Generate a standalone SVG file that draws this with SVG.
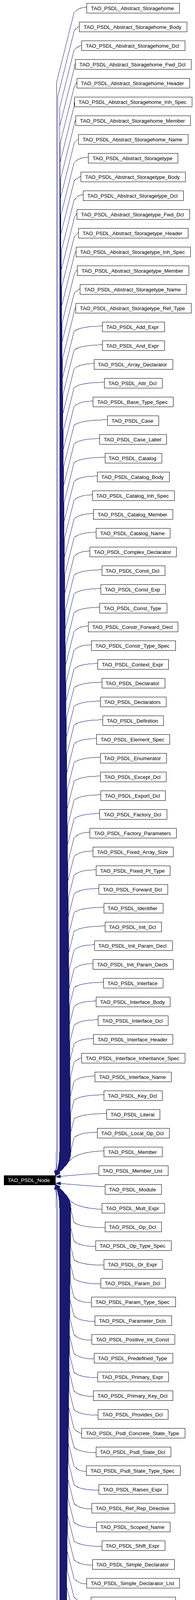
<svg xmlns="http://www.w3.org/2000/svg" width="498" height="6039" viewBox="0 0 498 6039">
<style>
.n rect{fill:#fff;stroke:#000;stroke-width:1;shape-rendering:crispEdges}
.n text{font-family:"Liberation Sans",Arial,Helvetica,sans-serif;font-size:13.3px;text-anchor:middle;fill:#000}
#edges path{fill:none;stroke:#191970;stroke-width:1;marker-end:url(#arr);shape-rendering:crispEdges}
#TAO_PSDL_Node rect{fill:#000;stroke:#000}
#TAO_PSDL_Node text{fill:#fff}
</style>
<defs>
<marker id="arr" markerUnits="userSpaceOnUse" markerWidth="14" markerHeight="10" refX="13" refY="4.5" orient="auto"><path d="M0,0 L13,4.5 L0,9 Z" fill="#191970" stroke="#191970" stroke-width="0.5"/></marker>
</defs>
<rect width="498" height="6039" fill="#fff"/>
<g id="edges">
<path d="M221.3,18.8C201.9,18.8 196,25.8 189,32.8l-45,180V2950c0,28 -1,40 -2,60"/>
<path d="M202.3,66.8C200.3,69.8 189.5,74.8 189,80.8l-42,168V2950c0,28 -2.5,40 -5,60"/>
<path d="M208.3,114.8C206.3,117.8 189.5,122.8 189,128.8l-37,148V2950c0,28 -5,40 -10,60"/>
<path d="M192.3,162.8C190.3,165.8 189.5,170.8 189,176.8l-36.5,146V2950c0,28 -5.25,40 -10.5,60"/>
<path d="M196.3,210.8C194.3,213.8 189.5,218.8 189,224.8l-36,144V2950c0,28 -5.5,40 -11,60"/>
<path d="M190.3,258.8C189.8,261.8 189.5,266.8 189,272.8l-35.5,142V2950c0,28 -5.75,40 -11.5,60"/>
<path d="M193.3,306.8C191.3,309.8 189.5,314.8 189,320.8l-35,140V2950c0,28 -6,40 -12,60"/>
<path d="M200.3,354.8C198.3,357.8 189.5,362.8 189,368.8l-34.5,138V2950c0,28 -6.25,40 -12.5,60"/>
<path d="M225.3,402.8C203.5,402.8 196,409.8 189,416.8l-34,136V2950c0,28 -6.5,40 -13,60"/>
<path d="M206.3,450.8C204.3,453.8 189.5,458.8 189,464.8l-33.5,134V2950c0,28 -6.75,40 -13.5,60"/>
<path d="M212.3,498.8C198.3,498.8 196,505.8 189,512.8l-33,132V2950c0,28 -7,40 -14,60"/>
<path d="M196.3,546.8C194.3,549.8 189.5,554.8 189,560.8l-32.5,130V2950c0,28 -7.25,40 -14.5,60"/>
<path d="M200.3,594.8C198.3,597.8 189.5,602.8 189,608.8l-32,128V2950c0,28 -7.5,40 -15,60"/>
<path d="M194.3,642.8C192.3,645.8 189.5,650.8 189,656.8l-31.5,126V2950c0,28 -7.75,40 -15.5,60"/>
<path d="M197.3,690.8C195.3,693.8 189.5,698.8 189,704.8l-31,124V2950c0,28 -8,40 -16,60"/>
<path d="M204.3,738.8C202.3,741.8 189.5,746.8 189,752.8l-30.5,122V2950c0,28 -8.25,40 -16.5,60"/>
<path d="M193.3,786.8C191.3,789.8 189.5,794.8 189,800.8l-30,120V2950c0,28 -8.5,40 -17,60"/>
<path d="M261.3,834.8C217.9,834.8 196,841.8 189,848.8l-29.5,118V2950c0,28 -8.75,40 -17.5,60"/>
<path d="M261.3,882.8C217.9,882.8 196,889.8 189,896.8l-29,116V2950c0,28 -9,40 -18,60"/>
<path d="M240.3,930.8C209.5,930.8 196,937.8 189,944.8l-28.5,114V2950c0,28 -9.25,40 -18.5,60"/>
<path d="M266.3,978.8C219.9,978.8 196,985.8 189,992.8l-28,112V2950c0,28 -9.5,40 -19,60"/>
<path d="M237.3,1026.8C208.3,1026.8 196,1033.8 189,1040.8l-27.5,110V2950c0,28 -9.75,40 -19.5,60"/>
<path d="M274.3,1074.8C223.1,1074.8 196,1081.8 189,1088.8l-27,108V2950c0,28 -10,40 -20,60"/>
<path d="M254.3,1122.8C215.1,1122.8 196,1129.8 189,1136.8l-26.5,106V2950c0,28 -10.25,40 -20.5,60"/>
<path d="M268.3,1170.8C220.7,1170.8 196,1177.8 189,1184.8l-26,104V2950c0,28 -10.5,40 -21,60"/>
<path d="M248.3,1218.8C212.7,1218.8 196,1225.8 189,1232.8l-25.5,102V2950c0,28 -10.75,40 -21.5,60"/>
<path d="M236.3,1266.8C207.9,1266.8 196,1273.8 189,1280.8l-25,100V2950c0,28 -11,40 -22,60"/>
<path d="M238.3,1314.8C208.7,1314.8 196,1321.8 189,1328.8l-24.5,98V2950c0,28 -11.25,40 -22.5,60"/>
<path d="M245.3,1362.8C211.5,1362.8 196,1369.8 189,1376.8l-24,96V2950c0,28 -11.5,40 -23,60"/>
<path d="M229.3,1410.8C205.1,1410.8 196,1417.8 189,1424.8l-23.5,94V2950c0,28 -11.75,40 -23.5,60"/>
<path d="M260.3,1458.8C217.5,1458.8 196,1465.8 189,1472.8l-23,92V2950c0,28 -12,40 -24,60"/>
<path d="M257.3,1506.8C216.3,1506.8 196,1513.8 189,1520.8l-22.5,90V2950c0,28 -12.25,40 -24.5,60"/>
<path d="M254.3,1554.8C215.1,1554.8 196,1561.8 189,1568.8l-22,88V2950c0,28 -12.5,40 -25,60"/>
<path d="M225.3,1602.8C203.5,1602.8 196,1609.8 189,1616.8l-21.5,86V2950c0,28 -12.75,40 -25.5,60"/>
<path d="M233.3,1650.8C206.7,1650.8 196,1657.8 189,1664.8l-21,84V2950c0,28 -13,40 -26,60"/>
<path d="M249.3,1698.8C213.1,1698.8 196,1705.8 189,1712.8l-20.5,82V2950c0,28 -13.25,40 -26.5,60"/>
<path d="M260.3,1746.8C217.5,1746.8 196,1753.8 189,1760.8l-20,80V2950c0,28 -13.5,40 -27,60"/>
<path d="M256.3,1794.8C215.9,1794.8 196,1801.8 189,1808.8l-19.5,78V2950c0,28 -13.75,40 -27.5,60"/>
<path d="M262.3,1842.8C218.3,1842.8 196,1849.8 189,1856.8l-19,76V2950c0,28 -14,40 -28,60"/>
<path d="M246.3,1890.8C211.9,1890.8 196,1897.8 189,1904.8l-18.5,74V2950c0,28 -14.25,40 -28.5,60"/>
<path d="M256.3,1938.8C215.9,1938.8 196,1945.8 189,1952.8l-18,72V2950c0,28 -14.5,40 -29,60"/>
<path d="M256.3,1986.8C215.9,1986.8 196,1993.8 189,2000.8l-17.5,70V2950c0,28 -14.75,40 -29.5,60"/>
<path d="M257.3,2034.8C216.3,2034.8 196,2041.8 189,2048.8l-17,68V2950c0,28 -15,40 -30,60"/>
<path d="M254.3,2082.8C215.1,2082.8 196,2089.8 189,2096.8l-16.5,66V2950c0,28 -15.25,40 -30.5,60"/>
<path d="M229.3,2130.8C205.1,2130.8 196,2137.8 189,2144.8l-16,64V2950c0,28 -15.5,40 -31,60"/>
<path d="M237.3,2178.8C208.3,2178.8 196,2185.8 189,2192.8l-15.5,62V2950c0,28 -15.75,40 -31.5,60"/>
<path d="M245.3,2226.8C211.5,2226.8 196,2233.8 189,2240.8l-15,60V2950c0,28 -16,40 -32,60"/>
<path d="M252.3,2274.8C214.3,2274.8 196,2281.8 189,2288.8l-14.5,58V2950c0,28 -16.25,40 -32.5,60"/>
<path d="M265.3,2322.8C219.5,2322.8 196,2329.8 189,2336.8l-14,56V2950c0,28 -16.5,40 -33,60"/>
<path d="M268.3,2370.8C220.7,2370.8 196,2377.8 189,2384.8l-13.5,54V2950c0,28 -16.75,40 -33.5,60"/>
<path d="M241.3,2418.8C209.9,2418.8 196,2425.8 189,2432.8l-13,52V2950c0,28 -17,40 -34,60"/>
<path d="M237.3,2466.8C208.3,2466.8 196,2473.8 189,2480.8l-12.5,50V2950c0,28 -17.25,40 -34.5,60"/>
<path d="M264.3,2514.8C219.1,2514.8 196,2521.8 189,2528.8l-12,48V2950c0,28 -17.5,40 -35,60"/>
<path d="M245.3,2562.8C211.5,2562.8 196,2569.8 189,2576.8l-11.5,46V2950c0,28 -17.75,40 -35.5,60"/>
<path d="M250.3,2610.8C213.5,2610.8 196,2617.8 189,2624.8l-11,44V2950c0,28 -18,40 -36,60"/>
<path d="M238.3,2658.8C208.7,2658.8 196,2665.8 189,2672.8l-10.5,42V2950c0,28 -18.25,40 -36.5,60"/>
<path d="M208.3,2706.8C206.3,2709.8 189.5,2714.8 189,2720.8l-10,40V2950c0,28 -18.5,40 -37,60"/>
<path d="M242.3,2754.8C210.3,2754.8 196,2761.8 189,2768.8l-9.5,38V2950c0,28 -18.75,40 -37.5,60"/>
<path d="M265.3,2802.8C219.5,2802.8 196,2809.8 189,2816.8l-9,36V2950c0,28 -19,40 -38,60"/>
<path d="M272.3,2850.8C222.3,2850.8 196,2857.8 189,2864.8l-8.5,34V2950c0,28 -19.25,40 -38.5,60"/>
<path d="M248.3,2898.8C212.7,2898.8 196,2905.8 189,2912.8l-8,32V2950c0,28 -19.5,40 -39,60"/>
<path d="M265.3,2946C225,2948 196,2955 185,2965C172,2977 152,2992 142,3010"/>
<path d="M252.3,3004C210,3006 170,3010 142,3013"/>
<path d="M268.3,3038C220,3036 175,3031 142,3029"/>
<path d="M260.3,3096C225,3094 200,3088 187,3080C172,3068 154,3046 142,3033"/>
<path d="M268.3,3142.8C220.7,3142.8 196,3135.8 189,3128.8l-8,-32V3092c0,-28 -19.5,-40 -39,-60"/>
<path d="M244.3,3190.8C211.1,3190.8 196,3183.8 189,3176.8l-8.5,-34V3092c0,-28 -19.25,-40 -38.5,-60"/>
<path d="M265.3,3238.8C219.5,3238.8 196,3231.8 189,3224.8l-9,-36V3092c0,-28 -19,-40 -38,-60"/>
<path d="M257.3,3286.8C216.3,3286.8 196,3279.8 189,3272.8l-9.5,-38V3092c0,-28 -18.75,-40 -37.5,-60"/>
<path d="M233.3,3334.8C206.7,3334.8 196,3327.8 189,3320.8l-10,-40V3092c0,-28 -18.5,-40 -37,-60"/>
<path d="M242.3,3382.8C210.3,3382.8 196,3375.8 189,3368.8l-10.5,-42V3092c0,-28 -18.25,-40 -36.5,-60"/>
<path d="M234.3,3430.8C207.1,3430.8 196,3423.8 189,3416.8l-11,-44V3092c0,-28 -18,-40 -36,-60"/>
<path d="M240.3,3478.8C209.5,3478.8 196,3471.8 189,3464.8l-11.5,-46V3092c0,-28 -17.75,-40 -35.5,-60"/>
<path d="M249.3,3526.8C213.1,3526.8 196,3519.8 189,3512.8l-12,-48V3092c0,-28 -17.5,-40 -35,-60"/>
<path d="M238.3,3574.8C208.7,3574.8 196,3567.8 189,3560.8l-12.5,-50V3092c0,-28 -17.25,-40 -34.5,-60"/>
<path d="M250.3,3622.8C213.5,3622.8 196,3615.8 189,3608.8l-13,-52V3092c0,-28 -17,-40 -34,-60"/>
<path d="M208.3,3670.8C206.3,3667.8 189.5,3662.8 189,3656.8l-13.5,-54V3092c0,-28 -16.75,-40 -33.5,-60"/>
<path d="M245.3,3718.8C211.5,3718.8 196,3711.8 189,3704.8l-14,-56V3092c0,-28 -16.5,-40 -33,-60"/>
<path d="M220.3,3766.8C201.5,3766.8 196,3759.8 189,3752.8l-14.5,-58V3092c0,-28 -16.25,-40 -32.5,-60"/>
<path d="M252.3,3814.8C214.3,3814.8 196,3807.8 189,3800.8l-15,-60V3092c0,-28 -16,-40 -32,-60"/>
<path d="M234.3,3862.8C207.1,3862.8 196,3855.8 189,3848.8l-15.5,-62V3092c0,-28 -15.75,-40 -31.5,-60"/>
<path d="M246.3,3910.8C211.9,3910.8 196,3903.8 189,3896.8l-16,-64V3092c0,-28 -15.5,-40 -31,-60"/>
<path d="M260.3,3958.8C217.5,3958.8 196,3951.8 189,3944.8l-16.5,-66V3092c0,-28 -15.25,-40 -30.5,-60"/>
<path d="M236.3,4006.8C207.9,4006.8 196,3999.8 189,3992.8l-17,-68V3092c0,-28 -15,-40 -30,-60"/>
<path d="M221.3,4054.8C201.9,4054.8 196,4047.8 189,4040.8l-17.5,-70V3092c0,-28 -14.75,-40 -29.5,-60"/>
<path d="M232.3,4102.8C206.3,4102.8 196,4095.8 189,4088.8l-18,-72V3092c0,-28 -14.5,-40 -29,-60"/>
<path d="M252.3,4150.8C214.3,4150.8 196,4143.8 189,4136.8l-18.5,-74V3092c0,-28 -14.25,-40 -28.5,-60"/>
<path d="M246.3,4198.8C211.9,4198.8 196,4191.8 189,4184.8l-19,-76V3092c0,-28 -14,-40 -28,-60"/>
<path d="M250.3,4246.8C213.5,4246.8 196,4239.8 189,4232.8l-19.5,-78V3092c0,-28 -13.75,-40 -27.5,-60"/>
<path d="M232.3,4294.8C206.3,4294.8 196,4287.8 189,4280.8l-20,-80V3092c0,-28 -13.5,-40 -27,-60"/>
<path d="M225.3,4342.8C203.5,4342.8 196,4335.8 189,4328.8l-20.5,-82V3092c0,-28 -13.25,-40 -26.5,-60"/>
<path d="M214.3,4390.8C199.1,4390.8 196,4383.8 189,4376.8l-21,-84V3092c0,-28 -13,-40 -26,-60"/>
<path d="M218.3,4438.8C200.7,4438.8 196,4431.8 189,4424.8l-21.5,-86V3092c0,-28 -12.75,-40 -25.5,-60"/>
<path d="M222.3,4486.8C202.3,4486.8 196,4479.8 189,4472.8l-22,-88V3092c0,-28 -12.5,-40 -25,-60"/>
<path d="M229.3,4534.8C205.1,4534.8 196,4527.8 189,4520.8l-22.5,-90V3092c0,-28 -12.25,-40 -24.5,-60"/>
<path d="M228.3,4582.8C204.7,4582.8 196,4575.8 189,4568.8l-23,-92V3092c0,-28 -12,-40 -24,-60"/>
<path d="M254.3,4630.8C215.1,4630.8 196,4623.8 189,4616.8l-23.5,-94V3092c0,-28 -11.75,-40 -23.5,-60"/>
<path d="M236.3,4678.8C207.9,4678.8 196,4671.8 189,4664.8l-24,-96V3092c0,-28 -11.5,-40 -23,-60"/>
<path d="M241.3,4726.8C209.9,4726.8 196,4719.8 189,4712.8l-24.5,-98V3092c0,-28 -11.25,-40 -22.5,-60"/>
<path d="M224.3,4774.8C203.1,4774.8 196,4767.8 189,4760.8l-25,-100V3092c0,-28 -11,-40 -22,-60"/>
<path d="M229.3,4822.8C205.1,4822.8 196,4815.8 189,4808.8l-25.5,-102V3092c0,-28 -10.75,-40 -21.5,-60"/>
<path d="M218.3,4870.8C200.7,4870.8 196,4863.8 189,4856.8l-26,-104V3092c0,-28 -10.5,-40 -21,-60"/>
<path d="M222.3,4918.8C202.3,4918.8 196,4911.8 189,4904.8l-26.5,-106V3092c0,-28 -10.25,-40 -20.5,-60"/>
<path d="M226.3,4966.8C203.9,4966.8 196,4959.8 189,4952.8l-27,-108V3092c0,-28 -10,-40 -20,-60"/>
<path d="M233.3,5014.8C206.7,5014.8 196,5007.8 189,5000.8l-27.5,-110V3092c0,-28 -9.75,-40 -19.5,-60"/>
<path d="M221.3,5062.8C201.9,5062.8 196,5055.8 189,5048.8l-28,-112V3092c0,-28 -9.5,-40 -19,-60"/>
<path d="M245.3,5110.8C211.5,5110.8 196,5103.8 189,5096.8l-28.5,-114V3092c0,-28 -9.25,-40 -18.5,-60"/>
<path d="M252.3,5158.8C214.3,5158.8 196,5151.8 189,5144.8l-29,-116V3092c0,-28 -9,-40 -18,-60"/>
<path d="M233.3,5206.8C206.7,5206.8 196,5199.8 189,5192.8l-29.5,-118V3092c0,-28 -8.75,-40 -17.5,-60"/>
<path d="M225.3,5254.8C203.5,5254.8 196,5247.8 189,5240.8l-30,-120V3092c0,-28 -8.5,-40 -17,-60"/>
<path d="M262.3,5302.8C218.3,5302.8 196,5295.8 189,5288.8l-30.5,-122V3092c0,-28 -8.25,-40 -16.5,-60"/>
<path d="M241.3,5350.8C209.9,5350.8 196,5343.8 189,5336.8l-31,-124V3092c0,-28 -8,-40 -16,-60"/>
<path d="M256.3,5398.8C215.9,5398.8 196,5391.8 189,5384.8l-31.5,-126V3092c0,-28 -7.75,-40 -15.5,-60"/>
<path d="M254.3,5446.8C215.1,5446.8 196,5439.8 189,5432.8l-32,-128V3092c0,-28 -7.5,-40 -15,-60"/>
<path d="M254.3,5494.8C215.1,5494.8 196,5487.8 189,5480.8l-32.5,-130V3092c0,-28 -7.25,-40 -14.5,-60"/>
<path d="M273.3,5542.8C222.7,5542.8 196,5535.8 189,5528.8l-33,-132V3092c0,-28 -7,-40 -14,-60"/>
<path d="M245.3,5590.8C211.5,5590.8 196,5583.8 189,5576.8l-33.5,-134V3092c0,-28 -6.75,-40 -13.5,-60"/>
<path d="M245.3,5638.8C211.5,5638.8 196,5631.8 189,5624.8l-34,-136V3092c0,-28 -6.5,-40 -13,-60"/>
<path d="M224.3,5686.8C203.1,5686.8 196,5679.8 189,5672.8l-34.5,-138V3092c0,-28 -6.25,-40 -12.5,-60"/>
<path d="M260.3,5734.8C217.5,5734.8 196,5727.8 189,5720.8l-35,-140V3092c0,-28 -6,-40 -12,-60"/>
<path d="M245.3,5782.8C211.5,5782.8 196,5775.8 189,5768.8l-35.5,-142V3092c0,-28 -5.75,-40 -11.5,-60"/>
<path d="M232.3,5830.8C206.3,5830.8 196,5823.8 189,5816.8l-36,-144V3092c0,-28 -5.5,-40 -11,-60"/>
<path d="M248.3,5878.8C212.7,5878.8 196,5871.8 189,5864.8l-36.5,-146V3092c0,-28 -5.25,-40 -10.5,-60"/>
<path d="M217.3,5926.8C200.3,5926.8 196,5919.8 189,5912.8l-37,-148V3092c0,-28 -5,-40 -10,-60"/>
<path d="M252.3,5974.8C214.3,5974.8 196,5967.8 189,5960.8l-42,-168V3092c0,-28 -2.5,-40 -5,-60"/>
<path d="M262.3,6022.8C218.3,6022.8 196,6015.8 189,6008.8l-45,-180V3092c0,-28 -1,-40 -2,-60"/>
</g>
<g id="TAO_PSDL_Node" class="n" transform="translate(0,3021)"><rect x="10" y="-12" width="131" height="24"/><text x="73.5" y="4.8">TAO_PSDL_Node</text></g>
<g id="Abstract_Storagehome" class="n" transform="translate(0,20.8)"><rect x="221.3" y="-12.5" width="237.4" height="25"/><text x="338.3" y="4.8">TAO_PSDL_Abstract_Storagehome</text></g>
<g id="Abstract_Storagehome_Body" class="n" transform="translate(0,68.8)"><rect x="202.3" y="-12.5" width="275" height="25"/><text x="338.3" y="4.8">TAO_PSDL_Abstract_Storagehome_Body</text></g>
<g id="Abstract_Storagehome_Dcl" class="n" transform="translate(0,116.8)"><rect x="208.3" y="-12.5" width="264.4" height="25"/><text x="338.3" y="4.8">TAO_PSDL_Abstract_Storagehome_Dcl</text></g>
<g id="Abstract_Storagehome_Fwd_Dcl" class="n" transform="translate(0,164.8)"><rect x="192.3" y="-12.5" width="296.4" height="25"/><text x="338.3" y="4.8">TAO_PSDL_Abstract_Storagehome_Fwd_Dcl</text></g>
<g id="Abstract_Storagehome_Header" class="n" transform="translate(0,212.8)"><rect x="196.3" y="-12.5" width="288" height="25"/><text x="338.3" y="4.8">TAO_PSDL_Abstract_Storagehome_Header</text></g>
<g id="Abstract_Storagehome_Inh_Spec" class="n" transform="translate(0,260.8)"><rect x="190.3" y="-12.5" width="300.4" height="25"/><text x="338.3" y="4.8">TAO_PSDL_Abstract_Storagehome_Inh_Spec</text></g>
<g id="Abstract_Storagehome_Member" class="n" transform="translate(0,308.8)"><rect x="193.3" y="-12.5" width="293.4" height="25"/><text x="338.3" y="4.8">TAO_PSDL_Abstract_Storagehome_Member</text></g>
<g id="Abstract_Storagehome_Name" class="n" transform="translate(0,356.8)"><rect x="200.3" y="-12.5" width="280.4" height="25"/><text x="338.3" y="4.8">TAO_PSDL_Abstract_Storagehome_Name</text></g>
<g id="Abstract_Storagetype" class="n" transform="translate(0,404.8)"><rect x="225.3" y="-12.5" width="229.4" height="25"/><text x="338.3" y="4.8">TAO_PSDL_Abstract_Storagetype</text></g>
<g id="Abstract_Storagetype_Body" class="n" transform="translate(0,452.8)"><rect x="206.3" y="-12.5" width="267" height="25"/><text x="338.3" y="4.8">TAO_PSDL_Abstract_Storagetype_Body</text></g>
<g id="Abstract_Storagetype_Dcl" class="n" transform="translate(0,500.8)"><rect x="212.3" y="-12.5" width="256.4" height="25"/><text x="338.3" y="4.8">TAO_PSDL_Abstract_Storagetype_Dcl</text></g>
<g id="Abstract_Storagetype_Fwd_Dcl" class="n" transform="translate(0,548.8)"><rect x="196.3" y="-12.5" width="288.4" height="25"/><text x="338.3" y="4.8">TAO_PSDL_Abstract_Storagetype_Fwd_Dcl</text></g>
<g id="Abstract_Storagetype_Header" class="n" transform="translate(0,596.8)"><rect x="200.3" y="-12.5" width="280.4" height="25"/><text x="338.3" y="4.8">TAO_PSDL_Abstract_Storagetype_Header</text></g>
<g id="Abstract_Storagetype_Inh_Spec" class="n" transform="translate(0,644.8)"><rect x="194.3" y="-12.5" width="292.4" height="25"/><text x="338.3" y="4.8">TAO_PSDL_Abstract_Storagetype_Inh_Spec</text></g>
<g id="Abstract_Storagetype_Member" class="n" transform="translate(0,692.8)"><rect x="197.3" y="-12.5" width="285.4" height="25"/><text x="338.3" y="4.8">TAO_PSDL_Abstract_Storagetype_Member</text></g>
<g id="Abstract_Storagetype_Name" class="n" transform="translate(0,740.8)"><rect x="204.3" y="-12.5" width="272.4" height="25"/><text x="338.3" y="4.8">TAO_PSDL_Abstract_Storagetype_Name</text></g>
<g id="Abstract_Storagetype_Ref_Type" class="n" transform="translate(0,788.8)"><rect x="193.3" y="-12.5" width="295.4" height="25"/><text x="338.3" y="4.8">TAO_PSDL_Abstract_Storagetype_Ref_Type</text></g>
<g id="Add_Expr" class="n" transform="translate(0,836.8)"><rect x="261.3" y="-12.5" width="159" height="25"/><text x="338.3" y="4.8">TAO_PSDL_Add_Expr</text></g>
<g id="And_Expr" class="n" transform="translate(0,884.8)"><rect x="261.3" y="-12.5" width="159" height="25"/><text x="338.3" y="4.8">TAO_PSDL_And_Expr</text></g>
<g id="Array_Declarator" class="n" transform="translate(0,932.8)"><rect x="240.3" y="-12.5" width="201.4" height="25"/><text x="338.3" y="4.8">TAO_PSDL_Array_Declarator</text></g>
<g id="Attr_Dcl" class="n" transform="translate(0,980.8)"><rect x="266.3" y="-12.5" width="148.4" height="25"/><text x="338.3" y="4.8">TAO_PSDL_Attr_Dcl</text></g>
<g id="Base_Type_Spec" class="n" transform="translate(0,1028.8)"><rect x="237.3" y="-12.5" width="205.4" height="25"/><text x="338.3" y="4.8">TAO_PSDL_Base_Type_Spec</text></g>
<g id="Case" class="n" transform="translate(0,1076.8)"><rect x="274.3" y="-12.5" width="131.4" height="25"/><text x="338.3" y="4.8">TAO_PSDL_Case</text></g>
<g id="Case_Label" class="n" transform="translate(0,1124.8)"><rect x="254.3" y="-12.5" width="171.4" height="25"/><text x="338.3" y="4.8">TAO_PSDL_Case_Label</text></g>
<g id="Catalog" class="n" transform="translate(0,1172.8)"><rect x="268.3" y="-12.5" width="145.4" height="25"/><text x="338.3" y="4.8">TAO_PSDL_Catalog</text></g>
<g id="Catalog_Body" class="n" transform="translate(0,1220.8)"><rect x="248.3" y="-12.5" width="184.4" height="25"/><text x="338.3" y="4.8">TAO_PSDL_Catalog_Body</text></g>
<g id="Catalog_Inh_Spec" class="n" transform="translate(0,1268.8)"><rect x="236.3" y="-12.5" width="209.4" height="25"/><text x="338.3" y="4.8">TAO_PSDL_Catalog_Inh_Spec</text></g>
<g id="Catalog_Member" class="n" transform="translate(0,1316.8)"><rect x="238.3" y="-12.5" width="203.4" height="25"/><text x="338.3" y="4.8">TAO_PSDL_Catalog_Member</text></g>
<g id="Catalog_Name" class="n" transform="translate(0,1364.8)"><rect x="245.3" y="-12.5" width="189.4" height="25"/><text x="338.3" y="4.8">TAO_PSDL_Catalog_Name</text></g>
<g id="Complex_Declarator" class="n" transform="translate(0,1412.8)"><rect x="229.3" y="-12.5" width="221.4" height="25"/><text x="338.3" y="4.8">TAO_PSDL_Complex_Declarator</text></g>
<g id="Const_Dcl" class="n" transform="translate(0,1460.8)"><rect x="260.3" y="-12.5" width="161.4" height="25"/><text x="338.3" y="4.8">TAO_PSDL_Const_Dcl</text></g>
<g id="Const_Exp" class="n" transform="translate(0,1508.8)"><rect x="257.3" y="-12.5" width="165.4" height="25"/><text x="338.3" y="4.8">TAO_PSDL_Const_Exp</text></g>
<g id="Const_Type" class="n" transform="translate(0,1556.8)"><rect x="254.3" y="-12.5" width="172.4" height="25"/><text x="338.3" y="4.8">TAO_PSDL_Const_Type</text></g>
<g id="Constr_Forward_Decl" class="n" transform="translate(0,1604.8)"><rect x="225.3" y="-12.5" width="229.4" height="25"/><text x="338.3" y="4.8">TAO_PSDL_Constr_Forward_Decl</text></g>
<g id="Constr_Type_Spec" class="n" transform="translate(0,1652.8)"><rect x="233.3" y="-12.5" width="215.4" height="25"/><text x="338.3" y="4.8">TAO_PSDL_Constr_Type_Spec</text></g>
<g id="Context_Expr" class="n" transform="translate(0,1700.8)"><rect x="249.3" y="-12.5" width="181.4" height="25"/><text x="338.3" y="4.8">TAO_PSDL_Context_Expr</text></g>
<g id="Declarator" class="n" transform="translate(0,1748.8)"><rect x="260.3" y="-12.5" width="161.4" height="25"/><text x="338.3" y="4.8">TAO_PSDL_Declarator</text></g>
<g id="Declarators" class="n" transform="translate(0,1796.8)"><rect x="256.3" y="-12.5" width="168.4" height="25"/><text x="338.3" y="4.8">TAO_PSDL_Declarators</text></g>
<g id="Definition" class="n" transform="translate(0,1844.8)"><rect x="262.3" y="-12.5" width="155.4" height="25"/><text x="338.3" y="4.8">TAO_PSDL_Definition</text></g>
<g id="Element_Spec" class="n" transform="translate(0,1892.8)"><rect x="246.3" y="-12.5" width="187.4" height="25"/><text x="338.3" y="4.8">TAO_PSDL_Element_Spec</text></g>
<g id="Enumerator" class="n" transform="translate(0,1940.8)"><rect x="256.3" y="-12.5" width="169.4" height="25"/><text x="338.3" y="4.8">TAO_PSDL_Enumerator</text></g>
<g id="Except_Dcl" class="n" transform="translate(0,1988.8)"><rect x="256.3" y="-12.5" width="168.4" height="25"/><text x="338.3" y="4.8">TAO_PSDL_Except_Dcl</text></g>
<g id="Export_Dcl" class="n" transform="translate(0,2036.8)"><rect x="257.3" y="-12.5" width="165.4" height="25"/><text x="338.3" y="4.8">TAO_PSDL_Export_Dcl</text></g>
<g id="Factory_Dcl" class="n" transform="translate(0,2084.8)"><rect x="254.3" y="-12.5" width="172.4" height="25"/><text x="338.3" y="4.8">TAO_PSDL_Factory_Dcl</text></g>
<g id="Factory_Parameters" class="n" transform="translate(0,2132.8)"><rect x="229.3" y="-12.5" width="221.4" height="25"/><text x="338.3" y="4.8">TAO_PSDL_Factory_Parameters</text></g>
<g id="Fixed_Array_Size" class="n" transform="translate(0,2180.8)"><rect x="237.3" y="-12.5" width="205.4" height="25"/><text x="338.3" y="4.8">TAO_PSDL_Fixed_Array_Size</text></g>
<g id="Fixed_Pt_Type" class="n" transform="translate(0,2228.8)"><rect x="245.3" y="-12.5" width="189.4" height="25"/><text x="338.3" y="4.8">TAO_PSDL_Fixed_Pt_Type</text></g>
<g id="Forward_Dcl" class="n" transform="translate(0,2276.8)"><rect x="252.3" y="-12.5" width="176.4" height="25"/><text x="338.3" y="4.8">TAO_PSDL_Forward_Dcl</text></g>
<g id="Identifier" class="n" transform="translate(0,2324.8)"><rect x="265.3" y="-12.5" width="151.4" height="25"/><text x="338.3" y="4.8">TAO_PSDL_Identifier</text></g>
<g id="Init_Dcl" class="n" transform="translate(0,2372.8)"><rect x="268.3" y="-12.5" width="144.4" height="25"/><text x="338.3" y="4.8">TAO_PSDL_Init_Dcl</text></g>
<g id="Init_Param_Decl" class="n" transform="translate(0,2420.8)"><rect x="241.3" y="-12.5" width="199.4" height="25"/><text x="338.3" y="4.8">TAO_PSDL_Init_Param_Decl</text></g>
<g id="Init_Param_Decls" class="n" transform="translate(0,2468.8)"><rect x="237.3" y="-12.5" width="205.4" height="25"/><text x="338.3" y="4.8">TAO_PSDL_Init_Param_Decls</text></g>
<g id="Interface" class="n" transform="translate(0,2516.8)"><rect x="264.3" y="-12.5" width="152.4" height="25"/><text x="338.3" y="4.8">TAO_PSDL_Interface</text></g>
<g id="Interface_Body" class="n" transform="translate(0,2564.8)"><rect x="245.3" y="-12.5" width="189.4" height="25"/><text x="338.3" y="4.8">TAO_PSDL_Interface_Body</text></g>
<g id="Interface_Dcl" class="n" transform="translate(0,2612.8)"><rect x="250.3" y="-12.5" width="179.4" height="25"/><text x="338.3" y="4.8">TAO_PSDL_Interface_Dcl</text></g>
<g id="Interface_Header" class="n" transform="translate(0,2660.8)"><rect x="238.3" y="-12.5" width="203.4" height="25"/><text x="338.3" y="4.8">TAO_PSDL_Interface_Header</text></g>
<g id="Interface_Inheritance_Spec" class="n" transform="translate(0,2708.8)"><rect x="208.3" y="-12.5" width="264.4" height="25"/><text x="338.3" y="4.8">TAO_PSDL_Interface_Inheritance_Spec</text></g>
<g id="Interface_Name" class="n" transform="translate(0,2756.8)"><rect x="242.3" y="-12.5" width="195.4" height="25"/><text x="338.3" y="4.8">TAO_PSDL_Interface_Name</text></g>
<g id="Key_Dcl" class="n" transform="translate(0,2804.8)"><rect x="265.3" y="-12.5" width="149.4" height="25"/><text x="338.3" y="4.8">TAO_PSDL_Key_Dcl</text></g>
<g id="Literal" class="n" transform="translate(0,2852.8)"><rect x="272.3" y="-12.5" width="136.4" height="25"/><text x="338.3" y="4.8">TAO_PSDL_Literal</text></g>
<g id="Local_Op_Dcl" class="n" transform="translate(0,2900.8)"><rect x="248.3" y="-12.5" width="184.4" height="25"/><text x="338.3" y="4.8">TAO_PSDL_Local_Op_Dcl</text></g>
<g id="Member" class="n" transform="translate(0,2948.8)"><rect x="265.3" y="-12.5" width="149.4" height="25"/><text x="338.3" y="4.8">TAO_PSDL_Member</text></g>
<g id="Member_List" class="n" transform="translate(0,2996.8)"><rect x="252.3" y="-12.5" width="177.4" height="25"/><text x="338.3" y="4.8">TAO_PSDL_Member_List</text></g>
<g id="Module" class="n" transform="translate(0,3044.8)"><rect x="268.3" y="-12.5" width="144.4" height="25"/><text x="338.3" y="4.8">TAO_PSDL_Module</text></g>
<g id="Mult_Expr" class="n" transform="translate(0,3092.8)"><rect x="260.3" y="-12.5" width="160.4" height="25"/><text x="338.3" y="4.8">TAO_PSDL_Mult_Expr</text></g>
<g id="Op_Dcl" class="n" transform="translate(0,3140.8)"><rect x="268.3" y="-12.5" width="144.4" height="25"/><text x="338.3" y="4.8">TAO_PSDL_Op_Dcl</text></g>
<g id="Op_Type_Spec" class="n" transform="translate(0,3188.8)"><rect x="244.3" y="-12.5" width="193.4" height="25"/><text x="338.3" y="4.8">TAO_PSDL_Op_Type_Spec</text></g>
<g id="Or_Expr" class="n" transform="translate(0,3236.8)"><rect x="265.3" y="-12.5" width="149.4" height="25"/><text x="338.3" y="4.8">TAO_PSDL_Or_Expr</text></g>
<g id="Param_Dcl" class="n" transform="translate(0,3284.8)"><rect x="257.3" y="-12.5" width="165.4" height="25"/><text x="338.3" y="4.8">TAO_PSDL_Param_Dcl</text></g>
<g id="Param_Type_Spec" class="n" transform="translate(0,3332.8)"><rect x="233.3" y="-12.5" width="215.4" height="25"/><text x="338.3" y="4.8">TAO_PSDL_Param_Type_Spec</text></g>
<g id="Parameter_Dcls" class="n" transform="translate(0,3380.8)"><rect x="242.3" y="-12.5" width="196.4" height="25"/><text x="338.3" y="4.8">TAO_PSDL_Parameter_Dcls</text></g>
<g id="Positive_Int_Const" class="n" transform="translate(0,3428.8)"><rect x="234.3" y="-12.5" width="212.4" height="25"/><text x="338.3" y="4.8">TAO_PSDL_Positive_Int_Const</text></g>
<g id="Predefined_Type" class="n" transform="translate(0,3476.8)"><rect x="240.3" y="-12.5" width="201.4" height="25"/><text x="338.3" y="4.8">TAO_PSDL_Predefined_Type</text></g>
<g id="Primary_Expr" class="n" transform="translate(0,3524.8)"><rect x="249.3" y="-12.5" width="181.4" height="25"/><text x="338.3" y="4.8">TAO_PSDL_Primary_Expr</text></g>
<g id="Primary_Key_Dcl" class="n" transform="translate(0,3572.8)"><rect x="238.3" y="-12.5" width="203.4" height="25"/><text x="338.3" y="4.8">TAO_PSDL_Primary_Key_Dcl</text></g>
<g id="Provides_Dcl" class="n" transform="translate(0,3620.8)"><rect x="250.3" y="-12.5" width="179.4" height="25"/><text x="338.3" y="4.8">TAO_PSDL_Provides_Dcl</text></g>
<g id="Psdl_Concrete_State_Type" class="n" transform="translate(0,3668.8)"><rect x="208.3" y="-12.5" width="264.4" height="25"/><text x="338.3" y="4.8">TAO_PSDL_Psdl_Concrete_State_Type</text></g>
<g id="Psdl_State_Dcl" class="n" transform="translate(0,3716.8)"><rect x="245.3" y="-12.5" width="191.4" height="25"/><text x="338.3" y="4.8">TAO_PSDL_Psdl_State_Dcl</text></g>
<g id="Psdl_State_Type_Spec" class="n" transform="translate(0,3764.8)"><rect x="220.3" y="-12.5" width="240.4" height="25"/><text x="338.3" y="4.8">TAO_PSDL_Psdl_State_Type_Spec</text></g>
<g id="Raises_Expr" class="n" transform="translate(0,3812.8)"><rect x="252.3" y="-12.5" width="176.4" height="25"/><text x="338.3" y="4.8">TAO_PSDL_Raises_Expr</text></g>
<g id="Ref_Rep_Directive" class="n" transform="translate(0,3860.8)"><rect x="234.3" y="-12.5" width="212.4" height="25"/><text x="338.3" y="4.8">TAO_PSDL_Ref_Rep_Directive</text></g>
<g id="Scoped_Name" class="n" transform="translate(0,3908.8)"><rect x="246.3" y="-12.5" width="188.4" height="25"/><text x="338.3" y="4.8">TAO_PSDL_Scoped_Name</text></g>
<g id="Shift_Expr" class="n" transform="translate(0,3956.8)"><rect x="260.3" y="-12.5" width="161.4" height="25"/><text x="338.3" y="4.8">TAO_PSDL_Shift_Expr</text></g>
<g id="Simple_Declarator" class="n" transform="translate(0,4004.8)"><rect x="236.3" y="-12.5" width="209.4" height="25"/><text x="338.3" y="4.8">TAO_PSDL_Simple_Declarator</text></g>
<g id="Simple_Declarator_List" class="n" transform="translate(0,4052.8)"><rect x="221.3" y="-12.5" width="237.4" height="25"/><text x="338.3" y="4.8">TAO_PSDL_Simple_Declarator_List</text></g>
<g id="Simple_Type_Spec" class="n" transform="translate(0,4100.8)"><rect x="232.3" y="-12.5" width="216.4" height="25"/><text x="338.3" y="4.8">TAO_PSDL_Simple_Type_Spec</text></g>
<g id="Specification" class="n" transform="translate(0,4148.8)"><rect x="252.3" y="-12.5" width="176.4" height="25"/><text x="338.3" y="4.8">TAO_PSDL_Specification</text></g>
<g id="State_Member" class="n" transform="translate(0,4196.8)"><rect x="246.3" y="-12.5" width="188.4" height="25"/><text x="338.3" y="4.8">TAO_PSDL_State_Member</text></g>
<g id="Storagehome" class="n" transform="translate(0,4244.8)"><rect x="250.3" y="-12.5" width="180.4" height="25"/><text x="338.3" y="4.8">TAO_PSDL_Storagehome</text></g>
<g id="Storagehome_Body" class="n" transform="translate(0,4292.8)"><rect x="232.3" y="-12.5" width="217.4" height="25"/><text x="338.3" y="4.8">TAO_PSDL_Storagehome_Body</text></g>
<g id="Storagehome_Header" class="n" transform="translate(0,4340.8)"><rect x="225.3" y="-12.5" width="231.4" height="25"/><text x="338.3" y="4.8">TAO_PSDL_Storagehome_Header</text></g>
<g id="Storagehome_Impl_Spec" class="n" transform="translate(0,4388.8)"><rect x="214.3" y="-12.5" width="251.4" height="25"/><text x="338.3" y="4.8">TAO_PSDL_Storagehome_Impl_Spec</text></g>
<g id="Storagehome_Inh_Spec" class="n" transform="translate(0,4436.8)"><rect x="218.3" y="-12.5" width="244.4" height="25"/><text x="338.3" y="4.8">TAO_PSDL_Storagehome_Inh_Spec</text></g>
<g id="Storagehome_Member" class="n" transform="translate(0,4484.8)"><rect x="222.3" y="-12.5" width="236.4" height="25"/><text x="338.3" y="4.8">TAO_PSDL_Storagehome_Member</text></g>
<g id="Storagehome_Name" class="n" transform="translate(0,4532.8)"><rect x="229.3" y="-12.5" width="223.4" height="25"/><text x="338.3" y="4.8">TAO_PSDL_Storagehome_Name</text></g>
<g id="Storagehome_Scope" class="n" transform="translate(0,4580.8)"><rect x="228.3" y="-12.5" width="225.4" height="25"/><text x="338.3" y="4.8">TAO_PSDL_Storagehome_Scope</text></g>
<g id="Storagetype" class="n" transform="translate(0,4628.8)"><rect x="254.3" y="-12.5" width="172.4" height="25"/><text x="338.3" y="4.8">TAO_PSDL_Storagetype</text></g>
<g id="Storagetype_Body" class="n" transform="translate(0,4676.8)"><rect x="236.3" y="-12.5" width="209.4" height="25"/><text x="338.3" y="4.8">TAO_PSDL_Storagetype_Body</text></g>
<g id="Storagetype_Dcl" class="n" transform="translate(0,4724.8)"><rect x="241.3" y="-12.5" width="199.4" height="25"/><text x="338.3" y="4.8">TAO_PSDL_Storagetype_Dcl</text></g>
<g id="Storagetype_Fwd_Dcl" class="n" transform="translate(0,4772.8)"><rect x="224.3" y="-12.5" width="232.4" height="25"/><text x="338.3" y="4.8">TAO_PSDL_Storagetype_Fwd_Dcl</text></g>
<g id="Storagetype_Header" class="n" transform="translate(0,4820.8)"><rect x="229.3" y="-12.5" width="223.4" height="25"/><text x="338.3" y="4.8">TAO_PSDL_Storagetype_Header</text></g>
<g id="Storagetype_Impl_Spec" class="n" transform="translate(0,4868.8)"><rect x="218.3" y="-12.5" width="243.4" height="25"/><text x="338.3" y="4.8">TAO_PSDL_Storagetype_Impl_Spec</text></g>
<g id="Storagetype_Inh_Spec" class="n" transform="translate(0,4916.8)"><rect x="222.3" y="-12.5" width="236.4" height="25"/><text x="338.3" y="4.8">TAO_PSDL_Storagetype_Inh_Spec</text></g>
<g id="Storagetype_Member" class="n" transform="translate(0,4964.8)"><rect x="226.3" y="-12.5" width="228.4" height="25"/><text x="338.3" y="4.8">TAO_PSDL_Storagetype_Member</text></g>
<g id="Storagetype_Name" class="n" transform="translate(0,5012.8)"><rect x="233.3" y="-12.5" width="215.4" height="25"/><text x="338.3" y="4.8">TAO_PSDL_Storagetype_Name</text></g>
<g id="Storagetype_Ref_Type" class="n" transform="translate(0,5060.8)"><rect x="221.3" y="-12.5" width="237.4" height="25"/><text x="338.3" y="4.8">TAO_PSDL_Storagetype_Ref_Type</text></g>
<g id="Store_Directive" class="n" transform="translate(0,5108.8)"><rect x="245.3" y="-12.5" width="191.4" height="25"/><text x="338.3" y="4.8">TAO_PSDL_Store_Directive</text></g>
<g id="Switch_Body" class="n" transform="translate(0,5156.8)"><rect x="252.3" y="-12.5" width="177.4" height="25"/><text x="338.3" y="4.8">TAO_PSDL_Switch_Body</text></g>
<g id="Switch_Type_Spec" class="n" transform="translate(0,5204.8)"><rect x="233.3" y="-12.5" width="215.4" height="25"/><text x="338.3" y="4.8">TAO_PSDL_Switch_Type_Spec</text></g>
<g id="Template_Type_Spec" class="n" transform="translate(0,5252.8)"><rect x="225.3" y="-12.5" width="231.4" height="25"/><text x="338.3" y="4.8">TAO_PSDL_Template_Type_Spec</text></g>
<g id="Type_Dcl" class="n" transform="translate(0,5300.8)"><rect x="262.3" y="-12.5" width="156.4" height="25"/><text x="338.3" y="4.8">TAO_PSDL_Type_Dcl</text></g>
<g id="Type_Declarator" class="n" transform="translate(0,5348.8)"><rect x="241.3" y="-12.5" width="199.4" height="25"/><text x="338.3" y="4.8">TAO_PSDL_Type_Declarator</text></g>
<g id="Type_Spec" class="n" transform="translate(0,5396.8)"><rect x="256.3" y="-12.5" width="168.4" height="25"/><text x="338.3" y="4.8">TAO_PSDL_Type_Spec</text></g>
<g id="Unary_Expr" class="n" transform="translate(0,5444.8)"><rect x="254.3" y="-12.5" width="171.4" height="25"/><text x="338.3" y="4.8">TAO_PSDL_Unary_Expr</text></g>
<g id="Union_Type" class="n" transform="translate(0,5492.8)"><rect x="254.3" y="-12.5" width="172.4" height="25"/><text x="338.3" y="4.8">TAO_PSDL_Union_Type</text></g>
<g id="Value" class="n" transform="translate(0,5540.8)"><rect x="273.3" y="-12.5" width="133.4" height="25"/><text x="338.3" y="4.8">TAO_PSDL_Value</text></g>
<g id="Value_Abs_Dcl" class="n" transform="translate(0,5588.8)"><rect x="245.3" y="-12.5" width="191.4" height="25"/><text x="338.3" y="4.8">TAO_PSDL_Value_Abs_Dcl</text></g>
<g id="Value_Box_Dcl" class="n" transform="translate(0,5636.8)"><rect x="245.3" y="-12.5" width="191.4" height="25"/><text x="338.3" y="4.8">TAO_PSDL_Value_Box_Dcl</text></g>
<g id="Value_Common_Base" class="n" transform="translate(0,5684.8)"><rect x="224.3" y="-12.5" width="233.4" height="25"/><text x="338.3" y="4.8">TAO_PSDL_Value_Common_Base</text></g>
<g id="Value_Dcl" class="n" transform="translate(0,5732.8)"><rect x="260.3" y="-12.5" width="160.4" height="25"/><text x="338.3" y="4.8">TAO_PSDL_Value_Dcl</text></g>
<g id="Value_Element" class="n" transform="translate(0,5780.8)"><rect x="245.3" y="-12.5" width="191.4" height="25"/><text x="338.3" y="4.8">TAO_PSDL_Value_Element</text></g>
<g id="Value_Forward_Dcl" class="n" transform="translate(0,5828.8)"><rect x="232.3" y="-12.5" width="217.4" height="25"/><text x="338.3" y="4.8">TAO_PSDL_Value_Forward_Dcl</text></g>
<g id="Value_Header" class="n" transform="translate(0,5876.8)"><rect x="248.3" y="-12.5" width="185.4" height="25"/><text x="338.3" y="4.8">TAO_PSDL_Value_Header</text></g>
<g id="Value_Inheritance_Spec" class="n" transform="translate(0,5924.8)"><rect x="217.3" y="-12.5" width="245.4" height="25"/><text x="338.3" y="4.8">TAO_PSDL_Value_Inheritance_Spec</text></g>
<g id="Value_Name" class="n" transform="translate(0,5972.8)"><rect x="252.3" y="-12.5" width="177.4" height="25"/><text x="338.3" y="4.8">TAO_PSDL_Value_Name</text></g>
<g id="Xor_Expr" class="n" transform="translate(0,6020.8)"><rect x="262.3" y="-12.5" width="156.4" height="25"/><text x="338.3" y="4.8">TAO_PSDL_Xor_Expr</text></g>
</svg>
